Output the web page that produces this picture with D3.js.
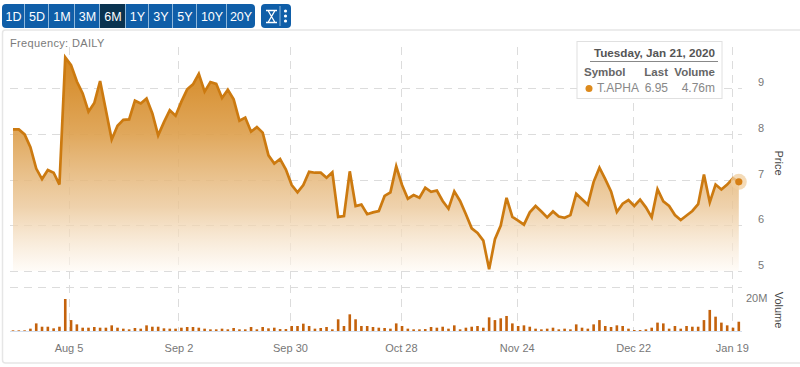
<!DOCTYPE html>
<html><head><meta charset="utf-8">
<script src="https://cdn.jsdelivr.net/npm/d3@7"></script>
<style>html,body{margin:0;padding:0;background:#fff;overflow:hidden}svg{display:block;font-family:"Liberation Sans",Arial,sans-serif}</style>
</head><body><svg id="c" width="800" height="367"></svg>
<script>
const prices=[8.10,8.10,7.99,7.71,7.24,7.01,7.21,7.15,6.89,9.68,9.51,9.15,8.89,8.49,8.68,9.16,8.52,7.88,8.18,8.31,8.32,8.73,8.67,8.78,8.45,7.97,8.26,8.52,8.40,8.71,8.98,9.09,9.32,8.93,9.14,9.10,8.79,8.97,8.76,8.29,8.36,8.05,8.15,8.03,7.53,7.35,7.45,7.22,6.88,6.72,6.88,7.17,7.15,7.15,7.04,7.16,6.18,6.20,7.18,6.42,6.45,6.24,6.28,6.31,6.64,6.72,7.29,6.88,6.58,6.66,6.60,6.82,6.73,6.76,6.53,6.36,6.74,6.53,6.24,5.93,5.83,5.66,5.03,5.69,5.99,6.60,6.18,6.10,6.01,6.28,6.42,6.30,6.17,6.30,6.19,6.16,6.22,6.69,6.57,6.45,6.95,7.26,7.01,6.74,6.29,6.47,6.55,6.42,6.56,6.39,6.17,6.79,6.52,6.42,6.22,6.11,6.21,6.31,6.46,7.11,6.50,6.89,6.78,6.89,7.03,6.95];
const volumes=[.34,.34,.34,1.2,3.9,2.2,2.2,1.37,2.2,16.4,5.6,3.4,1.7,1.7,2.05,1.7,1.7,2.9,1.7,1.2,.85,1.54,1.2,2.9,2.2,2.2,1.37,1.2,1.2,1.7,2.05,2.05,1.7,1.2,.85,.85,1.2,.85,1.54,.85,.85,2.05,.85,2.05,1.37,1.7,1.0,1.0,2.56,2.56,3.76,2.56,1.2,1.54,2.05,.85,6,2.56,8.55,6,2.56,2.56,2.05,1.7,1.54,1.2,3.9,2.56,1.2,.85,.85,1.0,2.05,1.7,2.2,1.2,2.9,.85,1.7,2.2,2.56,1.7,7,5.6,6.5,7.7,3.9,2.56,2.9,2.2,1.2,.85,1.2,1.7,.85,1.2,.85,3.4,1.7,1.2,3.4,5.6,2.56,2.05,2.9,2.56,1.2,.5,.5,.85,1.7,4.3,3.9,1.2,2.56,1.2,2.56,2.2,2.2,5.6,10.8,7.35,4.3,2.9,1.7,4.76];
const priceTicks=[5,6,7,8,9];
const volumeTicks=[20];
const tickPositions=[9.56,28.5,47.7,66.8,86.75,106.8,123.8];
const tickLabels=["Aug 5","Sep 2","Sep 30","Oct 28","Nov 24","Dec 22","Jan 19"];
const ranges=["1D","5D","1M","3M","6M","1Y","3Y","5Y","10Y","20Y"];
const rangeEdges=[2,25,49,75,100,126,149,173,197,227,255];
const activeRange="6M";
const tipTitle="Tuesday, Jan 21, 2020";
const tipHead=["Symbol","Last","Volume"];
const tipRow=["T.APHA","6.95","4.76m"];

const svg=d3.select("#c");
const x=d3.scaleLinear().domain([0,125]).range([13,738.8]);
const y=d3.scaleLinear().domain([5,9]).range([270.7,88.4]);
const v=d3.scaleLinear().domain([0,22.4]).range([331,287.3]);
const LINE="#cc7a10",BAR="#c4620c",GRID="#dcdcdc";

svg.append("rect").attr("x",2.5).attr("y",30).attr("width",810).attr("height",333).attr("rx",3)
  .attr("fill","#fff").attr("stroke","#e6e6e6").attr("stroke-width",1.5);

const defs=svg.append("defs");
const g=defs.append("linearGradient").attr("id","fade").attr("gradientUnits","userSpaceOnUse")
  .attr("x1",0).attr("x2",0).attr("y1",57).attr("y2",272);
[[0,"#d4861f",1],[.35,"#dd9f4c",.92],[.7,"#ebc798",.8],[1,"#fffaf4",.6]].forEach(s=>
  g.append("stop").attr("offset",s[0]).attr("stop-color",s[1]).attr("stop-opacity",s[2]));

svg.append("rect").attr("x",2).attr("y",4).attr("width",253).attr("height",24).attr("rx",4).attr("fill","#0f5ea8");
svg.append("rect").attr("x",261).attr("y",4).attr("width",30).attr("height",24).attr("rx",4).attr("fill","#0f5ea8");
const btn=svg.append("g").selectAll("g").data(ranges).join("g");
btn.filter(d=>d===activeRange).append("rect")
  .attr("x",d=>rangeEdges[ranges.indexOf(d)]).attr("y",4)
  .attr("width",d=>rangeEdges[ranges.indexOf(d)+1]-rangeEdges[ranges.indexOf(d)]).attr("height",24).attr("fill","#0a3350");
btn.append("line").attr("x1",d=>rangeEdges[ranges.indexOf(d)+1]-.5).attr("x2",d=>rangeEdges[ranges.indexOf(d)+1]-.5)
  .attr("y1",4).attr("y2",28).attr("stroke",(d,i)=>i<ranges.length-1?"#8fb7da":"none");
btn.append("text").text(d=>d).attr("x",d=>(rangeEdges[ranges.indexOf(d)]+rangeEdges[ranges.indexOf(d)+1])/2).attr("y",21)
  .attr("text-anchor","middle").attr("font-size",12.5).attr("fill","#fff");
svg.append("path").attr("d","M266 10.5H277M266 22.5H277M268 10.5L275 22.5M275 10.5L268 22.5")
  .attr("fill","none").attr("stroke","#fff").attr("stroke-width",1.3);
svg.append("line").attr("x1",280).attr("x2",280).attr("y1",6).attr("y2",26).attr("stroke","#8fb7da");
[11,16,21].forEach(cy=>svg.append("circle").attr("cx",285.5).attr("cy",cy).attr("r",1.6).attr("fill","#fff"));

svg.append("text").text("Frequency: DAILY").attr("x",10).attr("y",47).attr("font-size",11).attr("letter-spacing",.35).attr("fill","#7a7a7a");

const grid=svg.append("g").attr("stroke",GRID).attr("stroke-width",1).attr("stroke-dasharray","8,6");
grid.selectAll(".h").data(priceTicks).join("line").attr("x1",10).attr("x2",742).attr("y1",d=>Math.round(y(d))+.5).attr("y2",d=>Math.round(y(d))+.5);
grid.append("line").attr("x1",10).attr("x2",742).attr("y1",v(22.4)+.2).attr("y2",v(22.4)+.2);
grid.selectAll(".v").data(tickPositions).join("line").attr("y1",47).attr("y2",331).attr("x1",d=>Math.round(x(d))+.5).attr("x2",d=>Math.round(x(d))+.5);

const idx=prices.map((p,i)=>i);
svg.append("path").datum(idx).attr("fill","url(#fade)")
  .attr("d",d3.area().x(i=>x(i)).y0(y(5)).y1(i=>y(prices[i])));
svg.append("path").datum(idx).attr("fill","none").attr("stroke",LINE).attr("stroke-width",2.7).attr("stroke-linejoin","miter")
  .attr("d",d3.line().x(i=>x(i)).y(i=>y(prices[i])));

svg.append("line").attr("x1",10).attr("x2",742).attr("y1",331.5).attr("y2",331.5).attr("stroke","#d3deee");
svg.append("g").attr("fill",BAR).selectAll("rect").data(volumes).join("rect")
  .attr("x",(d,i)=>x(i)-1.3).attr("width",2.6).attr("y",d=>v(d)).attr("height",d=>v(0)-v(d));

const li=prices.length-1;
svg.append("circle").attr("cx",x(li)).attr("cy",y(prices[li])).attr("r",8).attr("fill","#f0cfa0").attr("opacity",.75);
svg.append("circle").attr("cx",x(li)).attr("cy",y(prices[li])).attr("r",3.6).attr("fill","#d67f14");

const pa=svg.append("g").attr("transform","translate(758,-6)").call(d3.axisRight(y).tickValues(priceTicks).tickSize(0).tickPadding(0).tickFormat(d3.format("d")));
const va=svg.append("g").attr("transform","translate(746,6)").call(d3.axisRight(v).tickValues(volumeTicks).tickSize(0).tickPadding(0).tickFormat(d=>d+"M"));
const xa=svg.append("g").attr("transform","translate(0,344)").call(d3.axisBottom(x).tickValues(tickPositions).tickSize(0).tickPadding(0).tickFormat((d,i)=>tickLabels[i]));
[pa,va,xa].forEach(a=>{a.select(".domain").remove();a.selectAll("text").attr("font-size",11).attr("font-family","'Liberation Sans',Arial,sans-serif").attr("fill","#777");});
svg.append("text").text("Price").attr("transform","translate(775,163) rotate(90)").attr("text-anchor","middle").attr("font-size",11).attr("fill","#444");
svg.append("text").text("Volume").attr("transform","translate(775,310) rotate(90)").attr("text-anchor","middle").attr("font-size",11).attr("fill","#444");

const t=svg.append("g");
t.append("rect").attr("x",577).attr("y",41.5).attr("width",145).attr("height",57).attr("fill","#fff").attr("stroke","#e0e0e0");
t.append("text").text(tipTitle).attr("x",715).attr("y",57).attr("text-anchor","end").attr("font-size",11.7).attr("font-weight","bold").attr("fill","#555");
t.append("line").attr("x1",590).attr("x2",718).attr("y1",61.5).attr("y2",61.5).attr("stroke","#888");
const hx=[584,668,715],ha=["start","end","end"];
tipHead.forEach((s,i)=>t.append("text").text(s).attr("x",hx[i]).attr("y",76).attr("text-anchor",ha[i]).attr("font-size",11.5).attr("font-weight","bold").attr("fill","#666"));
t.append("circle").attr("cx",589).attr("cy",88.5).attr("r",3.5).attr("fill","#dd8a1c");
const rx=[597,668,715],ra=["start","end","end"];
tipRow.forEach((s,i)=>t.append("text").text(s).attr("x",rx[i]).attr("y",92).attr("text-anchor",ra[i]).attr("font-size",12).attr("fill","#888"));
</script></body></html>
